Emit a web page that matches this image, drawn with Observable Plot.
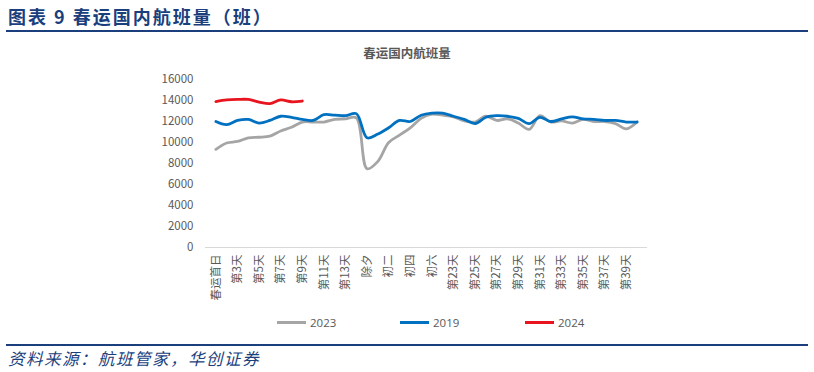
<!DOCTYPE html>
<html><head><meta charset="utf-8">
<script src="https://cdn.jsdelivr.net/npm/d3@7"></script>
<script src="https://cdn.jsdelivr.net/npm/@observablehq/plot@0.6"></script>
<style>
html,body{margin:0;padding:0;background:#fff;}
#wrap{position:relative;width:814px;height:372px;overflow:hidden;font-family:"Noto Sans CJK SC","Noto Sans",sans-serif;}
#title{position:absolute;left:8px;top:3px;font-size:18px;font-weight:bold;color:#1b3f7d;letter-spacing:2px;font-family:"Noto Sans CJK SC",serif;}
.rule{position:absolute;left:6px;width:802px;height:2px;background:#1b3f7d;}
#ctitle{position:absolute;left:0;width:814px;top:43px;text-align:center;font-size:12.5px;font-weight:bold;color:#595959;}
#chart{position:absolute;left:0;top:63px;}
#legend{position:absolute;top:314px;left:0;width:814px;height:16px;font-size:11.5px;color:#595959;font-family:"Open Sans","Noto Sans",sans-serif;}
.li{position:absolute;top:0;display:flex;align-items:center;height:16px;}
.sw{display:inline-block;width:29px;height:3px;margin-right:4px;}
#source{position:absolute;left:8px;top:346px;font-size:16.5px;font-style:italic;color:#1b3f7d;letter-spacing:1.5px;}
</style></head>
<body><div id="wrap">
<div id="title">图表 9 春运国内航班量（班）</div>
<div class="rule" style="top:30px"></div>
<div id="ctitle">春运国内航班量</div>
<div id="chart"></div>
<div id="legend">
  <div class="li" style="left:277px"><span class="sw" style="background:#a5a5a5"></span>2023</div>
  <div class="li" style="left:400px"><span class="sw" style="background:#0070c0"></span>2019</div>
  <div class="li" style="left:525px"><span class="sw" style="background:#e8141e"></span>2024</div>
</div>
<div class="rule" style="top:344px"></div>
<div id="source">资料来源：航班管家，华创证券</div>
</div>
<script>
const days = ["春运首日","第2天","第3天","第4天","第5天","第6天","第7天","第8天","第9天","第10天",
  "第11天","第12天","第13天","第14天","除夕","初一","初二","初三","初四","初五",
  "初六","第22天","第23天","第24天","第25天","第26天","第27天","第28天","第29天","第30天",
  "第31天","第32天","第33天","第34天","第35天","第36天","第37天","第38天","第39天","第40天"];
const v2023 = [9350,9950,10100,10450,10500,10600,11100,11450,11950,11950,
  11950,12200,12250,12350,7500,8200,10000,10700,11400,12300,
  12700,12600,12450,12050,11950,12500,12100,12250,11850,11250,
  12550,11950,12050,11850,12200,12000,12000,11800,11300,11950];
const v2019 = [12000,11700,12100,12200,11850,12100,12500,12400,12200,12100,
  12650,12600,12550,12750,10450,10800,11400,12100,12000,12600,
  12800,12800,12500,12200,11800,12400,12550,12500,12300,11800,
  12400,12000,12250,12450,12250,12200,12100,12100,11950,11950];
const v2024 = [13900,14050,14100,14100,13850,13700,14050,13880,13950];
const series = [
  {name:"2023", color:"#a5a5a5", values:v2023},
  {name:"2019", color:"#0070c0", values:v2019},
  {name:"2024", color:"#e8141e", values:v2024}
];
const rows = series.flatMap(s => s.values.map((v,i) => ({day:days[i], value:v, name:s.name})));
const yTicks = d3.range(0, 16001, 2000);
const xTicks = days.filter((d,i) => i % 2 === 0);
const chart = Plot.plot({
  width: 814, height: 250,
  marginLeft: 210, marginRight: 172, marginTop: 16, marginBottom: 66,
  style: {fontFamily: "'Noto Sans CJK SC','Open Sans',sans-serif", fontSize: "11.5px", color: "#595959", background: "transparent"},
  x: {type: "point", domain: days, label: null},
  y: {domain: [0, 16000], label: null},
  color: {domain: series.map(s=>s.name), range: series.map(s=>s.color)},
  marks: [
    Plot.ruleY([0], {stroke: "#d9d9d9", strokeWidth: 1, insetLeft: -5, insetRight: -5}),
    Plot.axisY({ticks: yTicks, tickSize: 0, tickPadding: 17, fill: "#595959", fontSize: 11.5, tickFormat: d => String(d), label: null}),
    Plot.axisX({ticks: xTicks, tickSize: 0, tickPadding: 7, tickRotate: -90, fill: "#595959", fontSize: 11.5, label: null}),
    Plot.lineY(rows, {x: "day", y: "value", z: "name", stroke: "name", strokeWidth: 2.8, curve: "catmull-rom"})
  ]
});
document.getElementById("chart").appendChild(chart);
</script>
</body></html>
